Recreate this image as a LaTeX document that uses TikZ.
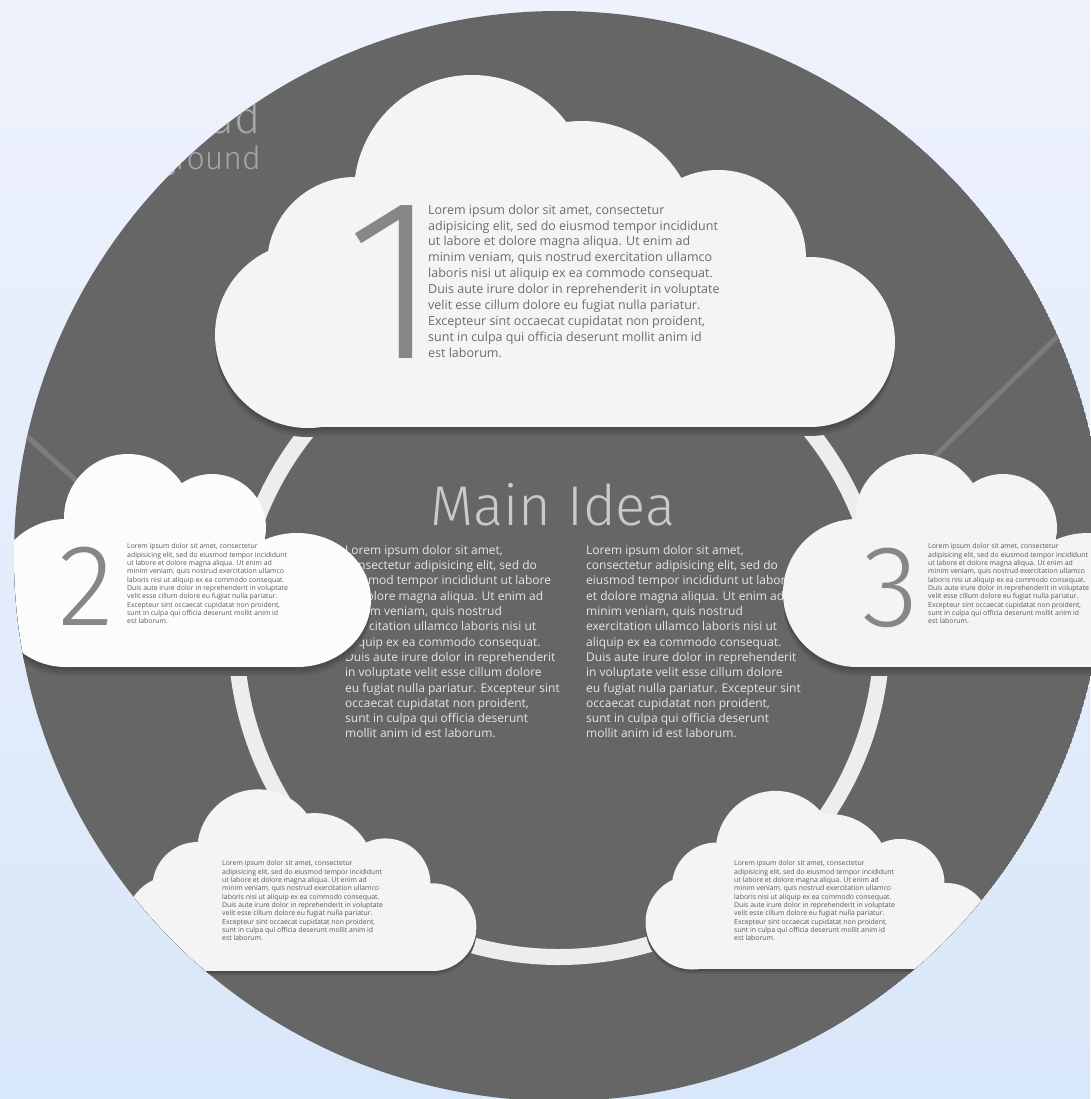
\documentclass[tikz,border=0pt]{standalone}
\usepackage{fontspec}
\setmainfont{Open Sans}
\IfFontExistsTF{Fira Sans Light}{\newfontfamily\thinfont{Fira Sans Light}}{\newfontfamily\thinfont{Open Sans}}

\definecolor{bgtop}{HTML}{EEF2FC}
\definecolor{bgbottom}{HTML}{D9E7FA}
\definecolor{disc}{HTML}{666666}
\definecolor{ringgray}{HTML}{EDEDED}
\definecolor{streak}{HTML}{7C7C7C}
\definecolor{cloudwhite}{HTML}{F4F4F4}
\definecolor{cloudbright}{HTML}{FCFCFC}
\definecolor{shadeA}{HTML}{4C4C4C}
\definecolor{shadeB}{HTML}{555555}
\definecolor{shadeC}{HTML}{5E5E5E}
\definecolor{numgray}{HTML}{878787}
\definecolor{inktext}{HTML}{6C6C6C}
\definecolor{smallink}{HTML}{5A5A5A}
\definecolor{lighttext}{HTML}{E6E6E6}
\definecolor{headgray}{HTML}{CACACA}
\definecolor{titlegray}{HTML}{A6A6A6}

% the big cloud, local origin at its lower left corner
\newcommand{\bigcloudpath}[1]{%
  \fill[fill=#1] (92,-150) rectangle (594,0);
  \fill[fill=#1] (92,-92) circle[radius=93] (139,-162) circle[radius=88]
    (256,-234) circle[radius=118] (366,-191) circle[radius=115]
    (502,-169) circle[radius=88] (594,-85) circle[radius=85];}
% the small cloud, drawn where cloud 2 sits
\newcommand{\smallcloudpath}[1]{%
  \fill[fill=#1] (66,545) rectangle (297,667);
  \fill[fill=#1] (66,593) circle[radius=74] (128,518) circle[radius=64]
    (212,528) circle[radius=54] (297,600) ellipse[x radius=74, y radius=67];}
% cloud with its shadow
\newcommand{\dropcloud}[3]{%
  \begin{scope}[#2]
    \foreach \off/\col in {9/shadeC,6/shadeB,3/shadeA}
      {\begin{scope}[shift={(0,\off)}]#1{\col}\end{scope}}
    #1{#3}
  \end{scope}}

\newcommand{\lorem}{Lorem ipsum dolor sit amet, consectetur\\
adipisicing elit, sed do eiusmod tempor incididunt\\
ut labore et dolore magna aliqua. Ut enim ad\\
minim veniam, quis nostrud exercitation ullamco\\
laboris nisi ut aliquip ex ea commodo consequat.\\
Duis aute irure dolor in reprehenderit in voluptate\\
velit esse cillum dolore eu fugiat nulla pariatur.\\
Excepteur sint occaecat cupidatat non proident,\\
sunt in culpa qui officia deserunt mollit anim id\\
est laborum.}
\newcommand{\loremcol}{Lorem ipsum dolor sit amet,\\
consectetur adipisicing elit, sed do\\
eiusmod tempor incididunt ut labore\\
et dolore magna aliqua. Ut enim ad\\
minim veniam, quis nostrud\\
exercitation ullamco laboris nisi ut\\
aliquip ex ea commodo consequat.\\
Duis aute irure dolor in reprehenderit\\
in voluptate velit esse cillum dolore\\
eu fugiat nulla pariatur. Excepteur sint\\
occaecat cupidatat non proident,\\
sunt in culpa qui officia deserunt\\
mollit anim id est laborum.}

\begin{document}
\begin{tikzpicture}[x=1pt, y=-1pt,
  cloudtext/.style={inner sep=0, align=left, anchor=north west, text=inktext, font=\fontsize{12.5}{15.9}\selectfont},
  smalltext/.style={inner sep=0, align=left, anchor=north west, text=smallink, font=\fontsize{6.9}{8.3}\selectfont},
  maintext/.style={inner sep=0, align=left, anchor=north west, text=lighttext, font=\fontsize{12}{15.3}\selectfont},
  bignum/.style={inner sep=0, anchor=base, text=numgray},
  titletext/.style={inner sep=0, anchor=base east, text=titlegray}]
\useasboundingbox (0,0) rectangle (1090,1099);
\shade[top color=bgtop, bottom color=bgbottom] (0,0) rectangle (1090,1099);

\begin{scope}
\clip (559,556) circle[radius=545];
\fill[disc] (559,556) circle[radius=545];

% title behind the disc edge
\node[titletext, font=\thinfont\fontsize{45}{45}\selectfont] (title1) at (261,134) {Cloud};
\node[titletext, font=\thinfont\fontsize{32}{32}\selectfont] (title2) at (261,170) {Background};

\draw[streak, line width=5] (0,412) -- (110,511);
\draw[streak, line width=5] (1100,295) -- (900,490);

% inner ring
\draw[ringgray, line width=16] (559,634) circle[radius=323];

\node[inner sep=0, anchor=base, text=headgray, font=\thinfont\fontsize{56}{56}\selectfont] (idea) at (553,525) {Main Idea};
\node[maintext] (colleft) at (345,545) {\loremcol};
\node[maintext] (colright) at (586,545) {\loremcol};

% clouds
\dropcloud{\bigcloudpath}{shift={(216,427)}}{cloudwhite}
\node[bignum, font=\thinfont\fontsize{230}{230}\selectfont] (num1) at (393,358) {\kern-45pt 1\kern-45pt};
\node[cloudtext] (text1) at (428,204.5) {\lorem};

\dropcloud{\smallcloudpath}{}{cloudbright}
\node[bignum, font=\thinfont\fontsize{116}{116}\selectfont] (num2) at (86,625) {2};
\node[smalltext] (text2) at (127,543.5) {\lorem};

\dropcloud{\smallcloudpath}{xshift=791}{cloudwhite}
\node[bignum, font=\thinfont\fontsize{116}{116}\selectfont] (num3) at (891,626) {3};
\node[smalltext] (text3) at (928,543.5) {\lorem};

\dropcloud{\bigcloudpath}{shift={(126,971)}, scale=0.516}{cloudwhite}
\node[smalltext] (text4) at (222,860.5) {\lorem};

\dropcloud{\bigcloudpath}{shift={(646,969)}, scale=0.506}{cloudwhite}
\node[smalltext] (text5) at (734,860.5) {\lorem};
\end{scope}
\end{tikzpicture}
\end{document}
